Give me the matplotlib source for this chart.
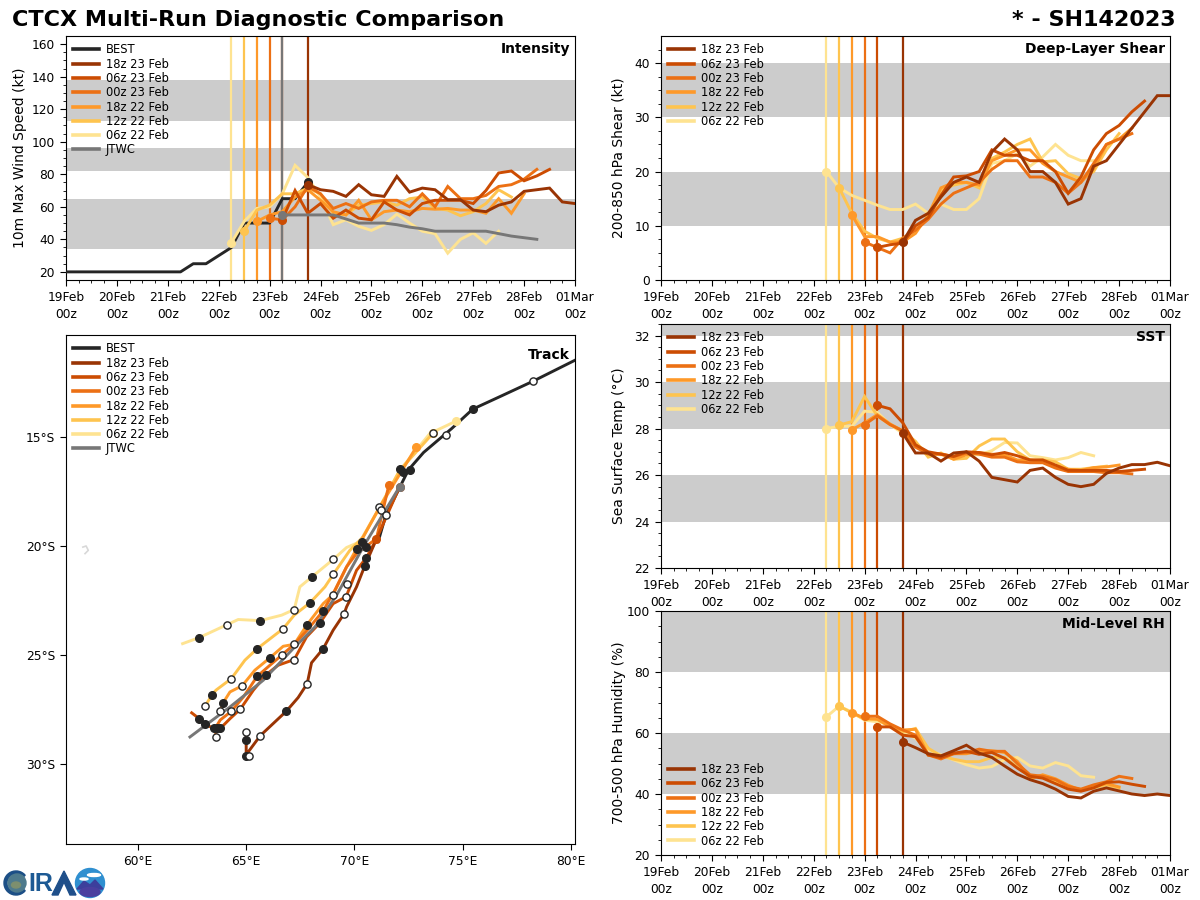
import numpy as np
import matplotlib
matplotlib.use("Agg")
import matplotlib.pyplot as plt
from matplotlib.lines import Line2D
from matplotlib.patches import Circle, Ellipse, Polygon, Wedge

# run labels, colours and start time (days since 19 Feb 00z)
RUN_LABELS = ["18z 23 Feb", "06z 23 Feb", "00z 23 Feb", "18z 22 Feb", "12z 22 Feb", "06z 22 Feb"]
RUN_COLORS = ["#993404", "#cc4c02", "#ec7014", "#fe9929", "#fec44f", "#fee391"]
RUN_STARTS = [4.75, 4.25, 4.0, 3.75, 3.5, 3.25]
BEST_COLOR = "#252525"
JTWC_COLOR = "#777777"
BAND_COLOR = "#cccccc"
TICK_SIZE = 8.8
LINE_W = 2.1

DATE_LABELS = ["19Feb\n00z", "20Feb\n00z", "21Feb\n00z", "22Feb\n00z", "23Feb\n00z", "24Feb\n00z",
               "25Feb\n00z", "26Feb\n00z", "27Feb\n00z", "28Feb\n00z", "01Mar\n00z"]

# intensity (kt), 6-hourly
best_vmax = [20, 20, 20, 20, 20, 20, 20, 20, 20, 20, 25, 25, 30, 35, 50, 50, 50, 65, 65, 75]
jtwc_vmax = [55, 55, 55, 55, 55, 52.5, 50, 50, 50, 49, 47.5, 46.5, 45, 45, 45, 45, 45, 43.5, 42, 41, 40]
vmax_18z23 = [73.6, 70.5, 69.5, 66.4, 73.6, 67.4, 66.4, 78.7, 69, 71.5, 70.5, 64.4, 64.4, 58, 57, 61, 63, 69.5, 70.5, 71.5, 63, 62]
vmax_06z23 = [52, 70, 56, 62, 53, 58, 53, 52, 63, 58, 55, 62, 64, 64, 64, 62, 70, 80.8, 82, 76, 79, 83]
vmax_00z23 = [53, 52, 60, 72.5, 68, 59, 62, 59, 63, 64, 64, 60, 68, 60, 72.5, 65, 65, 67, 72.5, 73.6, 77, 83]
vmax_18z22 = [51, 55, 57, 66, 70.5, 64, 57, 55, 64, 52, 57, 58, 57, 59, 58.5, 59, 58, 58, 56, 65, 56, 68]
vmax_12z22 = [45, 58, 61, 68, 68, 71.5, 68, 56, 55, 61, 62, 63, 61, 65, 66, 59, 58, 54.5, 57, 62, 70.5, 66]
vmax_06z22 = [38, 51, 59, 60, 68, 85.5, 78, 66, 49, 52, 48, 45.5, 49, 55.5, 50, 45, 43.5, 31.5, 40, 44, 37.5, 45]

# deep-layer shear (kt)
shear_18z23 = [7, 11, 12.3, 15.3, 18, 19, 18, 23.6, 26, 24, 20, 20, 18, 14, 15, 21, 22, 25, 28, 31, 34, 34]
shear_06z23 = [6, 6.5, 6.8, 10, 11.5, 15.6, 19, 19.2, 20, 24, 23, 23, 22, 22, 20, 16, 19, 24, 27, 28.5, 31, 33]
shear_00z23 = [7, 6, 5, 7.7, 9.2, 11.2, 14, 16, 17, 18, 20.4, 22, 22, 19, 19, 18, 16, 18, 21.5, 25, 26, 27]
shear_18z22 = [12, 8, 8, 7, 7, 8.6, 12, 17, 18, 18, 17.5, 22, 23, 24, 24, 21.5, 20, 19, 18, 20.5, 25, 26, 28]
shear_12z22 = [17, 12.3, 9, 7.7, 7, 7.7, 9.2, 11.4, 16.6, 17.5, 18, 17, 22.4, 23.6, 25, 26, 21.8, 22, 19.6, 18.7, 20, 24, 27]
shear_06z22 = [20, 17, 15.6, 14.7, 13.8, 13, 13, 14, 12.3, 14, 13, 13, 15, 21.5, 22, 23.3, 21, 22.7, 25, 23, 22, 22]

# sea surface temperature (C)
sst_18z23 = [27.8, 26.95, 26.95, 26.6, 26.95, 27, 26.6, 25.9, 25.8, 25.7, 26.2, 26.3, 25.9, 25.6, 25.5, 25.6, 26.07, 26.3, 26.45, 26.45, 26.55, 26.4]
sst_06z23 = [29, 28.85, 28.25, 27.3, 27, 26.9, 26.8, 27, 26.97, 26.87, 26.97, 26.83, 26.65, 26.65, 26.43, 26.2, 26.2, 26.2, 26.2, 26.15, 26.2, 26.25]
sst_00z23 = [28.17, 28.55, 28.17, 27.9, 27.2, 26.9, 26.9, 26.8, 26.95, 26.9, 26.77, 26.77, 26.57, 26.53, 26.53, 26.3, 26.15, 26.15, 26.15, 26.1, 26.1, 26.05]
sst_18z22 = [27.95, 28.25, 28.6, 28.2, 27.9, 27.3, 26.95, 26.9, 26.68, 26.87, 26.97, 26.9, 26.87, 26.65, 26.65, 26.57, 26.4, 26.25, 26.2, 26.32, 26.35, 26.43]
sst_12z22 = [28.15, 28.3, 29.38, 28.55, 28.17, 27.9, 27.45, 26.77, 26.95, 26.68, 26.72, 27.25, 27.55, 27.55, 27, 26.65, 26.65, 26.57, 26.25, 26.25, 26.32, 26.38]
sst_06z22 = [28, 28.1, 28.1, 28.75, 28.7, 28.17, 27.8, 27.35, 26.95, 26.87, 26.83, 26.87, 26.87, 27.05, 27.4, 27.38, 26.83, 26.75, 26.65, 26.75, 26.97, 26.83]

# mid-level humidity (%)
rh_18z23 = [57, 55.2, 53.2, 52.5, 54.2, 56, 53.4, 52, 49.2, 46.5, 44.7, 43.4, 41.6, 39.2, 38.7, 40.9, 42, 41, 40, 39.5, 40, 39.5]
rh_06z23 = [62, 62, 59.3, 58.8, 52.8, 52, 53.4, 54, 53, 53.6, 51.7, 48.5, 45.8, 45.2, 43.4, 41.6, 40.9, 42, 43.8, 44, 43.2, 42.5]
rh_00z23 = [65.5, 65.5, 63, 61, 59.3, 52.8, 51.5, 53.2, 53.6, 54.7, 54, 54, 50, 46.3, 45.8, 44.7, 42.5, 41.6, 43, 44, 45.8, 45.1]
rh_18z22 = [66.7, 64.8, 64.5, 62, 61, 61.2, 52.8, 52.5, 53.2, 53.2, 54, 54.2, 53.6, 50.7, 45, 46.3, 45, 42.9, 41.2, 42.5, 43.4, 42.3]
rh_12z22 = [68.8, 66.6, 64.5, 64.5, 62.6, 60.4, 61.5, 55, 52.5, 51.4, 50.6, 50.6, 52, 52, 48.8, 45.8, 45.8, 44.2, 42.3, 41.5, 42, 43, 42]
rh_06z22 = [65.3, 68.8, 66.9, 64.2, 63.7, 62.6, 60.4, 58.3, 54.5, 52.8, 51.2, 49.6, 48.5, 49, 51.2, 52, 49.2, 48.5, 50.3, 49.2, 46, 45.5]

# tracks (lon E, lat)
best_lon = [80.2, 78.25, 76.8, 75.47, 74.5, 73.2, 72.5, 72.1, 71.45, 71.1]
best_lat = [-11.46, -12.43, -13.1, -13.71, -14.6, -15.7, -16.5, -17.3, -18.6, -19.8]
jtwc_lon = [72.09, 71.25, 70.41, 69.18, 68.18, 67.17, 65.79, 64.25, 62.4]
jtwc_lat = [-17.28, -18.66, -20.04, -22.26, -23.72, -24.72, -26.17, -27.4, -28.78]
lon_18z23 = [71.02, 70.48, 70.1, 69.64, 69.53, 69.02, 68.56, 68.02, 67.82, 67.4, 66.85, 66.25, 65.65, 65.1, 65.14, 65.0, 65.0, 65.0]
lat_18z23 = [-19.69, -20.92, -21.88, -22.8, -23.11, -23.87, -24.72, -25.37, -26.33, -26.97, -27.6, -28.16, -28.72, -29.46, -29.64, -29.64, -28.9, -28.53]
lon_06z23 = [72.09, 71.02, 70.56, 70.1, 69.62, 69.02, 68.42, 67.79, 67.22, 66.48, 65.93, 65.33, 64.73, 64.25, 63.8, 63.51, 63.11, 62.83, 62.48]
lat_06z23 = [-17.28, -19.69, -20.53, -21.12, -22.33, -22.65, -23.52, -24.18, -25.22, -25.48, -25.91, -26.63, -27.5, -27.94, -28.39, -28.39, -28.2, -27.94, -27.67]
lon_00z23 = [71.6, 71.02, 70.1, 69.64, 69.1, 68.56, 67.82, 67.22, 66.64, 66.1, 65.51, 64.87, 64.31, 63.8, 63.56, 63.62]
lat_00z23 = [-17.18, -19.66, -20.35, -20.96, -22.03, -22.98, -23.87, -24.52, -25.02, -25.48, -25.99, -26.94, -27.6, -28.0, -28.39, -28.8]
lon_18z22 = [72.87, 71.18, 70.41, 69.64, 69.02, 68.56, 67.82, 67.22, 66.71, 66.11, 65.4, 64.82, 64.25, 63.94, 63.8]
lat_18z22 = [-15.44, -18.2, -19.58, -20.96, -22.23, -22.65, -23.61, -24.52, -24.61, -25.13, -25.71, -26.42, -26.71, -27.2, -27.6]
lon_12z22 = [73.63, 72.1, 71.18, 70.41, 69.79, 69.02, 68.64, 67.96, 67.22, 66.71, 65.51, 64.94, 64.31, 63.6, 63.43, 63.11]
lat_12z22 = [-14.82, -16.52, -18.2, -19.58, -20.2, -21.31, -21.88, -22.6, -23.18, -23.8, -24.72, -25.25, -26.1, -26.63, -26.83, -27.34]
lon_06z22 = [74.7, 73.49, 72.1, 71.18, 70.25, 69.64, 69.02, 68.05, 67.48, 67.22, 66.64, 65.65, 64.63, 64.13, 62.83, 62.06]
lat_06z22 = [-14.26, -14.83, -16.52, -18.2, -19.81, -20.07, -20.62, -21.41, -21.88, -22.92, -23.18, -23.43, -23.38, -23.61, -24.21, -24.49]

track_open_lon = [69.02, 69.02, 69.02, 69.64, 69.62, 69.53, 67.22, 66.71, 67.22, 66.64, 67.22, 64.13, 64.31, 64.82, 67.82, 63.11, 63.8, 64.31, 64.73, 63.62, 65.0, 65.65, 65.14, 71.15, 71.25, 71.45, 78.25, 74.23, 73.63]
track_open_lat = [-20.62, -21.31, -22.23, -21.73, -22.33, -23.11, -22.92, -23.8, -24.52, -25.02, -25.22, -23.61, -26.1, -26.42, -26.33, -27.34, -27.6, -27.6, -27.5, -28.8, -28.53, -28.72, -29.64, -18.23, -18.33, -18.59, -12.43, -14.9, -14.82]
track_fill_lon = [68.05, 67.96, 65.65, 62.83, 65.51, 67.82, 68.42, 68.56, 68.56, 66.11, 65.51, 65.93, 63.43, 63.94, 66.85, 62.83, 63.11, 63.51, 63.66, 63.8, 65.0, 65.0, 70.36, 70.13, 70.56, 70.56, 70.48, 72.1, 72.25, 72.56, 75.47]
track_fill_lat = [-21.41, -22.6, -23.43, -24.21, -24.72, -23.61, -23.52, -22.98, -24.72, -25.13, -25.99, -25.91, -26.83, -27.2, -27.6, -27.94, -28.2, -28.39, -28.39, -28.39, -28.9, -29.64, -19.81, -20.16, -20.04, -20.53, -20.92, -16.44, -16.59, -16.52, -13.71]

VMAX_RUNS = [vmax_18z23, vmax_06z23, vmax_00z23, vmax_18z22, vmax_12z22, vmax_06z22]
SHEAR_RUNS = [shear_18z23, shear_06z23, shear_00z23, shear_18z22, shear_12z22, shear_06z22]
SST_RUNS = [sst_18z23, sst_06z23, sst_00z23, sst_18z22, sst_12z22, sst_06z22]
RH_RUNS = [rh_18z23, rh_06z23, rh_00z23, rh_18z22, rh_12z22, rh_06z22]
TRACK_LONS = [lon_18z23, lon_06z23, lon_00z23, lon_18z22, lon_12z22, lon_06z22]
TRACK_LATS = [lat_18z23, lat_06z23, lat_00z23, lat_18z22, lat_12z22, lat_06z22]


def add_axes_px(fig, left, top, right, bottom):
    return fig.add_axes([left / 1200, 1 - bottom / 900, (right - left) / 1200, (bottom - top) / 900])


def six_hourly(start, n):
    return start + 0.25 * np.arange(n)


def style_ticks(ax):
    ax.tick_params(which="major", length=4.5, pad=3.5, labelsize=TICK_SIZE)
    ax.tick_params(which="minor", length=2.5)


def add_legend(ax, loc, with_obs):
    handles = []
    labels = []
    if with_obs:
        handles.append(Line2D([], [], color=BEST_COLOR, lw=2.6))
        labels.append("BEST")
    for label, color in zip(RUN_LABELS, RUN_COLORS):
        handles.append(Line2D([], [], color=color, lw=2.6))
        labels.append(label)
    if with_obs:
        handles.append(Line2D([], [], color=JTWC_COLOR, lw=2.6))
        labels.append("JTWC")
    ax.legend(handles, labels, loc=loc, frameon=False, fontsize=8.3, labelspacing=0.11,
              handlelength=2.2, handletextpad=0.6, borderaxespad=0.2, borderpad=0.45)


def panel_name(ax, name):
    ax.text(0.99, 0.975, name, transform=ax.transAxes, ha="right", va="top", fontsize=10, fontweight="bold", zorder=6)


def draw_panel(ax, runs, bands, ylim, major, minor, ylabel, name, label_x, legend_loc="upper left", with_obs=False):
    for low, high in bands:
        ax.axhspan(low, high, color=BAND_COLOR, lw=0, zorder=1)
    for start, color in zip(RUN_STARTS, RUN_COLORS):
        ax.axvline(start, color=color, lw=1.6, zorder=2)
    if with_obs:
        ax.axvline(4.25, color=JTWC_COLOR, lw=1.6, zorder=2.5)
        t_best = six_hourly(0, len(best_vmax))
        ax.plot(t_best, best_vmax, color=BEST_COLOR, lw=LINE_W, zorder=3)
        ax.plot(t_best[-1], best_vmax[-1], "o", color=BEST_COLOR, ms=5.5, zorder=4.95)
    for i in range(5, -1, -1):
        t = six_hourly(RUN_STARTS[i], len(runs[i]))
        ax.plot(t, runs[i], color=RUN_COLORS[i], lw=LINE_W, zorder=4 + (5 - i) * 0.1, solid_joinstyle="miter")
        ax.plot(t[0], runs[i][0], "o", color=RUN_COLORS[i], ms=5.5, zorder=5)
    if with_obs:
        t_jtwc = six_hourly(4.25, len(jtwc_vmax))
        ax.plot(t_jtwc, jtwc_vmax, color=JTWC_COLOR, lw=LINE_W, zorder=4.7)
        ax.plot(t_jtwc[0], jtwc_vmax[0], "o", color=JTWC_COLOR, ms=5.5, zorder=5)
    ax.set_xlim(0, 10)
    ax.set_ylim(*ylim)
    ax.set_xticks(np.arange(0, 11))
    ax.set_xticklabels(DATE_LABELS, linespacing=1.35)
    ax.set_xticks(np.arange(0, 10.01, 0.25), minor=True)
    ax.set_yticks(major)
    ax.set_yticks(minor, minor=True)
    style_ticks(ax)
    ax.set_ylabel(ylabel, fontsize=10)
    ax.yaxis.set_label_coords(label_x, 0.5)
    panel_name(ax, name)
    add_legend(ax, legend_loc, with_obs)


def draw_track(ax):
    ax.plot(best_lon, best_lat, color=BEST_COLOR, lw=LINE_W, zorder=3)
    for i in range(5, -1, -1):
        ax.plot(TRACK_LONS[i], TRACK_LATS[i], color=RUN_COLORS[i], lw=LINE_W, zorder=4 + (5 - i) * 0.1)
    ax.plot(jtwc_lon, jtwc_lat, color=JTWC_COLOR, lw=LINE_W, zorder=4.7)
    ax.plot(track_fill_lon, track_fill_lat, "o", color=BEST_COLOR, ms=5.5, zorder=5)
    ax.plot(track_open_lon, track_open_lat, "o", mfc="white", mec=BEST_COLOR, mew=1, ms=5.2, zorder=5)
    for i in range(1, 6):
        ax.plot(TRACK_LONS[i][0], TRACK_LATS[i][0], "o", color=RUN_COLORS[i], ms=5.5, zorder=4.9)
    ax.plot(TRACK_LONS[0][0], TRACK_LATS[0][0], "o", color=RUN_COLORS[1], ms=5.5, zorder=4.9)
    ax.plot(jtwc_lon[0], jtwc_lat[0], "o", color=JTWC_COLOR, ms=5.5, zorder=5.1)
    # Mauritius coastline speck
    ax.plot([57.45, 57.6, 57.7, 57.55], [-20.05, -20.0, -20.2, -20.35], color="#d8d8d8", lw=1.2, zorder=2)
    ax.set_xlim(56.67, 80.2)
    ax.set_ylim(-33.7, -10.3)
    ax.set_xticks([60, 65, 70, 75, 80])
    ax.set_xticklabels(["60°E", "65°E", "70°E", "75°E", "80°E"])
    ax.set_yticks([-15, -20, -25, -30])
    ax.set_yticklabels(["15°S", "20°S", "25°S", "30°S"])
    style_ticks(ax)
    panel_name(ax, "Track")
    add_legend(ax, "upper left", True)


def draw_logo(fig):
    ax = fig.add_axes([0, 0, 1, 1], zorder=10)
    ax.set_xlim(0, 1200)
    ax.set_ylim(900, 0)
    ax.axis("off")
    ax.add_patch(Wedge((16, 883), 12, 40, 320, width=3, color="#1c4f86"))
    ax.add_patch(Circle((17, 883), 9, color="#4e7a8c"))
    ax.add_patch(Ellipse((16, 885), 9, 6, color="#7d8f6e"))
    ax.text(28, 884, "IR", fontsize=18, fontweight="bold", family="Liberation Sans", color="#1d5a94", va="center", ha="left")
    ax.add_patch(Polygon([[52, 895], [64, 871], [76, 895], [70, 895], [64, 882], [58, 895]], color="#1f4f8a"))
    ax.add_patch(Circle((90, 883), 14.5, color="#2f8fd0"))
    ax.add_patch(Polygon([[77, 889], [84, 881], [90, 885], [95, 880], [103, 889]], color="#3c3f9c"))
    ax.add_patch(Ellipse((90, 892), 20, 9, color="#4a3f9f"))
    ax.add_patch(Ellipse((94, 875), 13, 3, color="white"))
    ax.add_patch(Ellipse((84, 879), 8, 2, color="white"))


def main():
    fig = plt.figure(figsize=(12, 9), dpi=100)
    fig.text(12 / 1200, 1 - 20 / 900, "CTCX Multi-Run Diagnostic Comparison", fontsize=16, fontweight="bold", ha="left", va="center")
    fig.text(1176 / 1200, 1 - 20 / 900, "* - SH142023", fontsize=16, fontweight="bold", ha="right", va="center")

    ax1 = add_axes_px(fig, 66, 36, 575, 280)
    draw_panel(ax1, VMAX_RUNS, [(34, 65), (82, 96), (113, 138)], (15, 165), np.arange(20, 161, 20),
               np.arange(20, 161, 5), "10m Max Wind Speed (kt)", "Intensity", -0.076, with_obs=True)

    ax2 = add_axes_px(fig, 661, 36, 1170, 280)
    draw_panel(ax2, SHEAR_RUNS, [(10, 20), (30, 40)], (0, 45), np.arange(0, 41, 10),
               np.arange(0, 45, 2.5), "200-850 hPa Shear (kt)", "Deep-Layer Shear", -0.069)

    ax3 = add_axes_px(fig, 66, 335, 575, 844)
    draw_track(ax3)

    ax4 = add_axes_px(fig, 661, 324, 1170, 568)
    draw_panel(ax4, SST_RUNS, [(24, 26), (28, 30), (32, 33)], (22, 32.5), np.arange(22, 33, 2),
               np.arange(22, 32.6, 0.5), "Sea Surface Temp (°C)", "SST", -0.069)

    ax5 = add_axes_px(fig, 661, 611, 1170, 855)
    draw_panel(ax5, RH_RUNS, [(40, 60), (80, 100)], (20, 100), np.arange(20, 101, 20),
               np.arange(20, 101, 5), "700-500 hPa Humidity (%)", "Mid-Level RH", -0.069, legend_loc="lower left")

    draw_logo(fig)
    fig.savefig("out.png", dpi=100)
    plt.close(fig)


if __name__ == "__main__":
    main()
